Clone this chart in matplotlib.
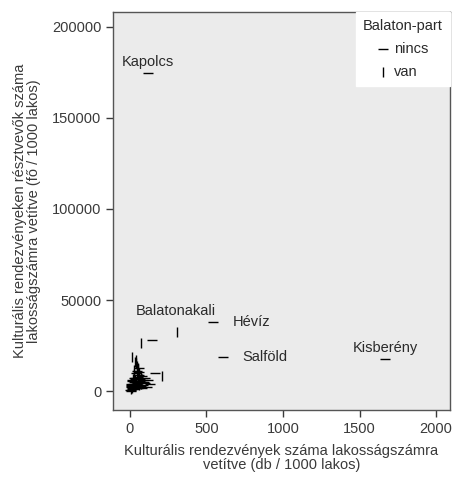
import numpy as np
import matplotlib.pyplot as plt

plt.rcParams['font.family'] = ['Liberation Sans', 'DejaVu Sans']

# Balaton-part: nincs (horizontal marker)
nincs_x = [118, 542, 608, 1667, 144, 163, 95, 120, 80, 60, 45, 30, 20, 12, 8, 5, 25, 35, 50,
           70, 15, 40, 55, 65, 22, 10, 3, 18, 28, 42, 75, 90, 33, 48, 6, 14, 38, 58, 85, 100,
           110, 130, 68, 52, 26, 16, 4, 36, 62, 78, 44, 24, 9, 57, 88]
nincs_y = [174700, 37900, 18700, 17600, 28000, 9900, 7500, 6000, 8500, 9000, 4000, 3500, 2500,
           1500, 800, 300, 5000, 6500, 2000, 3000, 1000, 1800, 4500, 5500, 3000, 2200, 500,
           4200, 1200, 2800, 4800, 5200, 7200, 11000, 3800, 6200, 9800, 12500, 3500, 4600,
           2500, 3800, 6800, 8000, 7000, 5600, 2600, 4000, 2400, 1500, 5800, 1900, 3300, 10500, 6000]
nincs_lab = ["Kapolcs", "Hévíz", "Salföld", "Kisberény"]

# Balaton-part: van (vertical marker)
van_x = [307, 72, 209, 13, 40, 50, 60, 30, 20, 45, 55, 35, 25, 65, 15, 80, 10, 48, 38, 58, 70,
         28, 42, 52, 18, 33, 62, 75]
van_y = [32400, 26400, 8200, 18700, 17000, 12000, 9000, 6000, 4000, 14000, 7000, 3000, 9500,
         5000, 2000, 6500, 1000, 10500, 4500, 3500, 8000, 11500, 15500, 13000, 6800, 16000,
         10000, 4200]
van_lab = ["Balatonakali"]

fig = plt.figure(figsize=(4.53, 4.82), dpi=100)
ax = fig.add_axes([0.2494, 0.149, 0.7440, 0.826])
ax.set_facecolor("#ebebeb")

ax.scatter(nincs_x, nincs_y, marker="_", s=55, linewidths=1.0, color="black", label="nincs", zorder=3)
ax.scatter(van_x, van_y, marker="|", s=55, linewidths=1.0, color="black", label="van", zorder=3)

# point labels (offsets in points)
offs = {"Kapolcs": (0, 8, "center"), "Hévíz": (14, 0, "left"),
        "Salföld": (14, 0, "left"), "Kisberény": (0, 8, "center"),
        "Balatonakali": (-1, 15, "center")}
for name, x, y in zip(nincs_lab + van_lab, nincs_x[:4] + van_x[:1], nincs_y[:4] + van_y[:1]):
    dx, dy, ha = offs[name]
    ax.annotate(name, (x, y), xytext=(dx, dy), textcoords="offset points",
                ha=ha, va="center", fontsize=10.5, color="#2a2a2a")

ax.set_xlim(-111, 2091)
ax.set_ylim(-10400, 208000)
ax.set_xticks([0, 500, 1000, 1500, 2000])
ax.set_yticks([0, 50000, 100000, 150000, 200000])
ax.tick_params(direction="out", length=5, width=1, labelsize=10.5, colors="#3a3a3a",
               top=False, right=False)
for s in ax.spines.values():
    s.set_color("#555555")
    s.set_linewidth(1)

ax.set_xlabel("Kulturális rendezvények száma lakosságszámra\nvetítve (db / 1000 lakos)",
              fontsize=10.5, color="#3a3a3a", labelpad=6, linespacing=1.0)
ax.set_ylabel("Kulturális rendezvényeken résztvevők száma\nlakosságszámra vetítve (fő / 1000 lakos)",
              fontsize=10.5, color="#3a3a3a", labelpad=8, linespacing=1.0)

leg = ax.legend(title="Balaton-part", loc="upper right", frameon=True, fancybox=False,
                fontsize=10.5, title_fontsize=10.5, handlelength=0.8, handletextpad=0.4,
                borderaxespad=0, borderpad=0.5, labelspacing=0.6)
leg.get_frame().set_facecolor("white")
leg.get_frame().set_edgecolor("white")
leg.get_frame().set_alpha(1)
leg.get_title().set_color("#2a2a2a")
for t in leg.get_texts():
    t.set_color("#2a2a2a")

fig.savefig("out.png", dpi=100)
